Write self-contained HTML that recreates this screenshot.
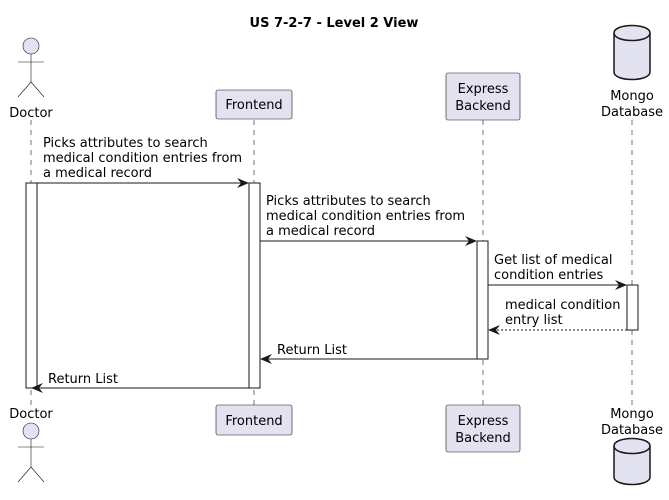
<!DOCTYPE html>
<html><head><meta charset="utf-8"><style>
body{margin:0;background:#fff}
svg{display:block}
text{font-family:"DejaVu Sans","Liberation Sans",sans-serif;font-size:13px;fill:#000}
</style></head><body>
<svg width="669" height="500" viewBox="0 0 669 500" xmlns="http://www.w3.org/2000/svg">
<defs>
<marker id="a" viewBox="0 0 12 10" refX="11" refY="5" markerWidth="12" markerHeight="10" markerUnits="userSpaceOnUse" orient="auto"><path d="M0,0 L12,5 L0,10 L4,5 Z" fill="#181818"/></marker>
</defs>
<text x="334" y="27" text-anchor="middle" font-weight="bold" style="font-size:13px">US 7-2-7 - Level 2 View</text>
<!-- lifelines -->
<g stroke="#181818" stroke-width="0.6" stroke-dasharray="5,5">
<line x1="31" y1="120" x2="31" y2="405"/>
<line x1="254" y1="120" x2="254" y2="405"/>
<line x1="483" y1="120" x2="483" y2="405"/>
<line x1="632" y1="120" x2="632" y2="405"/>
</g>
<!-- top actor -->
<g stroke="#181818" fill="#E2E2F0" stroke-width="0.6">
<circle cx="31" cy="46" r="8"/>
<line x1="31" y1="54" x2="31" y2="82"/>
<line x1="18" y1="62" x2="44" y2="62"/>
<path d="M18,97 L31,82 L44,97" fill="none"/>
</g>
<text x="31" y="117" text-anchor="middle">Doctor</text>
<!-- bottom actor -->
<text x="31" y="418" text-anchor="middle">Doctor</text>
<g stroke="#181818" fill="#E2E2F0" stroke-width="0.6">
<circle cx="31" cy="431" r="8"/>
<line x1="31" y1="439" x2="31" y2="467"/>
<line x1="18" y1="447" x2="44" y2="447"/>
<path d="M18,482 L31,467 L44,482" fill="none"/>
</g>
<!-- boxes -->
<g fill="#E2E2F0" stroke="#181818" stroke-width="0.6">
<rect x="216" y="90" width="76" height="29" rx="2"/>
<rect x="216" y="405" width="76" height="30" rx="2"/>
<rect x="446" y="73" width="74" height="47" rx="2"/>
<rect x="446" y="405" width="74" height="47" rx="2"/>
</g>
<text x="254" y="109" text-anchor="middle">Frontend</text>
<text x="254" y="425" text-anchor="middle">Frontend</text>
<text x="483" y="93" text-anchor="middle">Express</text>
<text x="483" y="110" text-anchor="middle">Backend</text>
<text x="483" y="425" text-anchor="middle">Express</text>
<text x="483" y="442" text-anchor="middle">Backend</text>
<!-- cylinders -->
<g fill="#E2E2F0" stroke="#181818" stroke-width="1.5">
<path d="M614,33 C614,23 650,23 650,33 L650,72 C650,82 614,82 614,72 Z"/>
<path d="M614,33 C614,43 650,43 650,33" fill="none"/>
<path d="M614,446 C614,436 650,436 650,446 L650,477 C650,487 614,487 614,477 Z"/>
<path d="M614,446 C614,456 650,456 650,446" fill="none"/>
</g>
<text x="632" y="100" text-anchor="middle">Mongo</text>
<text x="632" y="116" text-anchor="middle">Database</text>
<text x="632" y="418" text-anchor="middle">Mongo</text>
<text x="632" y="434" text-anchor="middle">Database</text>
<!-- activations -->
<g fill="#fff" stroke="#181818" stroke-width="1">
<rect x="26" y="183" width="11" height="205"/>
<rect x="249" y="183" width="11" height="205"/>
<rect x="477" y="241" width="11" height="118"/>
<rect x="627" y="285" width="11" height="45"/>
</g>
<!-- messages -->
<g stroke="#181818" stroke-width="1" fill="none">
<line x1="37" y1="183" x2="248" y2="183" marker-end="url(#a)"/>
<line x1="260" y1="241" x2="476" y2="241" marker-end="url(#a)"/>
<line x1="488" y1="285" x2="626" y2="285" marker-end="url(#a)"/>
<line x1="627" y1="330" x2="489" y2="330" stroke-dasharray="2,2" marker-end="url(#a)"/>
<line x1="477" y1="359" x2="261" y2="359" marker-end="url(#a)"/>
<line x1="249" y1="388" x2="32" y2="388" marker-end="url(#a)"/>
</g>
<text x="43" y="147">Picks attributes to search</text>
<text x="43" y="162">medical condition entries from</text>
<text x="43" y="177">a medical record</text>
<text x="266" y="205">Picks attributes to search</text>
<text x="266" y="220">medical condition entries from</text>
<text x="266" y="235">a medical record</text>
<text x="494" y="264">Get list of medical</text>
<text x="494" y="279">condition entries</text>
<text x="505" y="309">medical condition</text>
<text x="505" y="324">entry list</text>
<text x="277" y="354">Return List</text>
<text x="48" y="383">Return List</text>
</svg>
</body></html>
